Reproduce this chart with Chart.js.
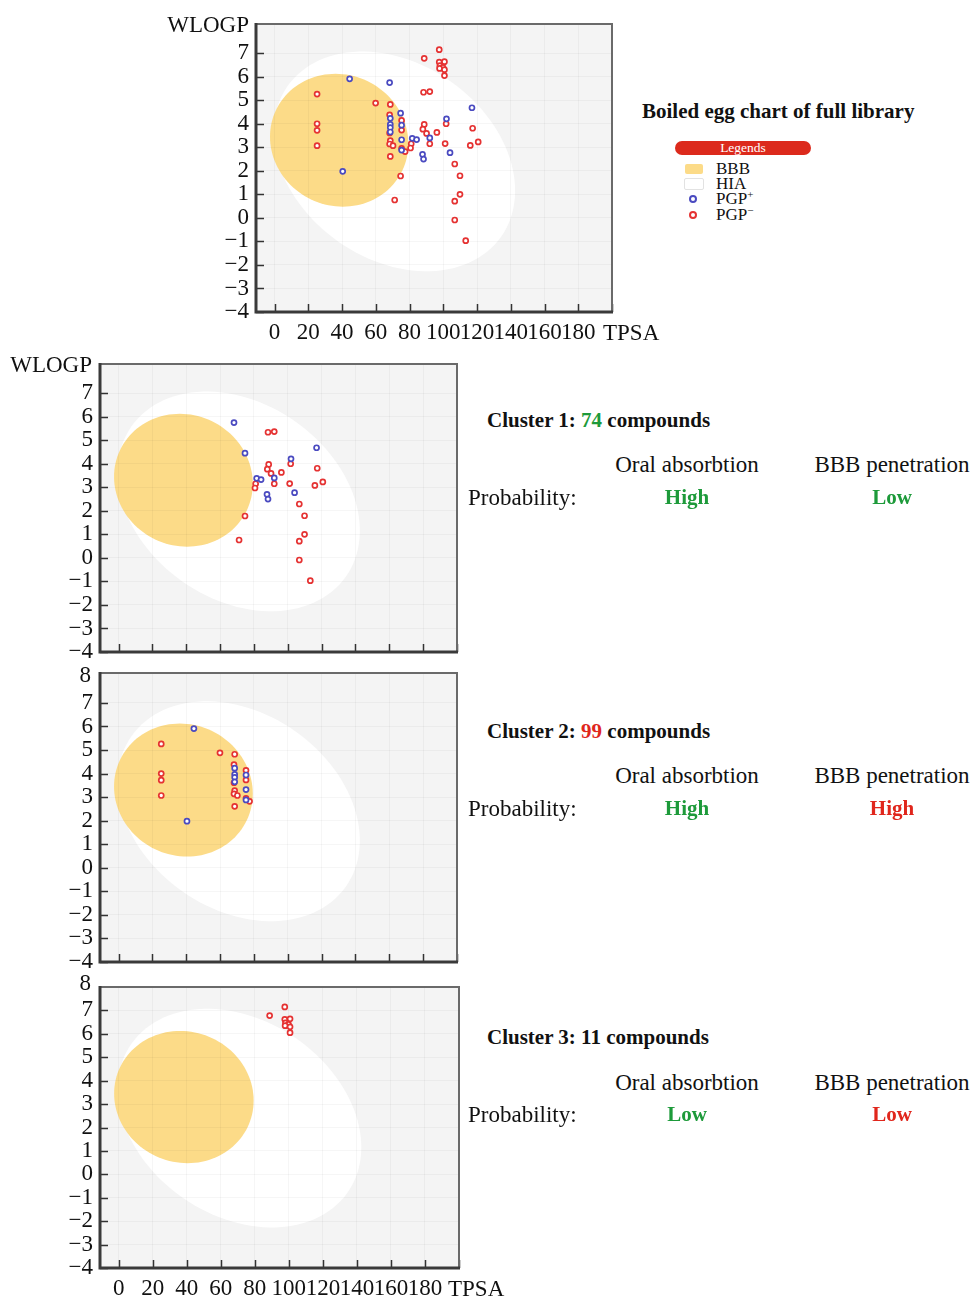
<!DOCTYPE html>
<html lang="en">
<head>
<meta charset="UTF-8" />
<title>Boiled egg charts</title>
<style>
  body { margin: 0; background: #fff; }
  #page { position: relative; width: 974px; height: 1299px; overflow: hidden; }
  canvas { position: absolute; }
  .t {
    position: absolute; white-space: nowrap; line-height: 1;
    font-family: "Liberation Serif", "Times New Roman", serif; color: #111;
    transform: translateY(-50%);
  }
  .c { transform: translate(-50%, -50%); }
  .r { transform: translate(-100%, -50%); }
  .b { font-weight: bold; }
  .ax { font-size: 23px; }
  .big { font-size: 21px; }
  .reg { font-size: 23px; }
  .green { color: #1d9a3a; }
  .red { color: #e0261c; }
  .leg { font-size: 17px; left: 716px; }
  .leg sup { font-size: 11px; vertical-align: 6px; line-height: 0; }
  .box { position: absolute; border-radius: 2px; }
  .dot { position: absolute; width: 4px; height: 4px; border-radius: 50%; border: 2px solid; background: #fff; }
</style>
<script src="https://cdn.jsdelivr.net/npm/chart.js"></script>
</head>
<body>
<div id="page">
  <canvas id="full" width="480" height="350" style="left:150px;top:8px"></canvas>
  <canvas id="cl1" width="470" height="310" style="left:0;top:350px"></canvas>
  <canvas id="cl2" width="470" height="310" style="left:0;top:660px"></canvas>
  <canvas id="cl3" width="470" height="327" style="left:0;top:972px"></canvas>

  <div class="t ax r" style="left:249px;top:24px">WLOGP</div>
  <div class="t ax" style="left:603px;top:332px">TPSA</div>
  <div class="t ax r" style="left:92px;top:364px">WLOGP</div>
  <div class="t ax r" style="left:91px;top:674px">8</div>
  <div class="t ax r" style="left:91px;top:982px">8</div>
  <div class="t ax" style="left:448px;top:1288px">TPSA</div>

  <div class="t big b" style="left:642px;top:111px">Boiled egg chart of full library</div>
  <div class="t" style="left:675px;top:148px;width:136px;height:14px;line-height:14px;transform:translateY(-50%);background:#dc2a1c;border-radius:7px;color:#fff;font-size:13.5px;text-align:center">Legends</div>
  <div class="box" style="left:685px;top:164px;width:18px;height:10px;background:#fcdb88"></div>
  <div class="t leg" style="top:168px">BBB</div>
  <div class="box" style="left:684px;top:178px;width:18px;height:10px;background:#fff;border:1px solid #e2e2e2"></div>
  <div class="t leg" style="top:183px">HIA</div>
  <div class="dot" style="left:689px;top:195px;border-color:#4a4ac0"></div>
  <div class="t leg" style="top:198px">PGP<sup>+</sup></div>
  <div class="dot" style="left:689px;top:211px;border-color:#e53232"></div>
  <div class="t leg" style="top:214px">PGP<sup>−</sup></div>

  <div class="t big b" style="left:487px;top:420px">Cluster 1: <span class="green">74</span> compounds</div>
  <div class="t reg c" style="left:687px;top:464px">Oral absorbtion</div>
  <div class="t reg c" style="left:892px;top:464px">BBB penetration</div>
  <div class="t reg" style="left:468px;top:497px">Probability:</div>
  <div class="t big b c green" style="left:687px;top:497px">High</div>
  <div class="t big b c green" style="left:892px;top:497px">Low</div>

  <div class="t big b" style="left:487px;top:731px">Cluster 2: <span class="red">99</span> compounds</div>
  <div class="t reg c" style="left:687px;top:775px">Oral absorbtion</div>
  <div class="t reg c" style="left:892px;top:775px">BBB penetration</div>
  <div class="t reg" style="left:468px;top:808px">Probability:</div>
  <div class="t big b c green" style="left:687px;top:808px">High</div>
  <div class="t big b c red" style="left:892px;top:808px">High</div>

  <div class="t big b" style="left:487px;top:1037px">Cluster 3: 11 compounds</div>
  <div class="t reg c" style="left:687px;top:1082px">Oral absorbtion</div>
  <div class="t reg c" style="left:892px;top:1082px">BBB penetration</div>
  <div class="t reg" style="left:468px;top:1114px">Probability:</div>
  <div class="t big b c green" style="left:687px;top:1114px">Low</div>
  <div class="t big b c red" style="left:892px;top:1114px">Low</div>
</div>

<script>
  // axis ticks
  const tpsaTicks = [0, 20, 40, 60, 80, 100, 120, 140, 160, 180, 200];
  const wlogpTicks = [-4, -3, -2, -1, 0, 1, 2, 3, 4, 5, 6, 7];

  // cluster 1 (74 compounds)
  const c1PlusTpsa = [68.2, 74.7, 81.6, 84.2, 92.0, 87.7, 88.3, 101.9, 104.0, 117.0];
  const c1PlusWlogp = [5.75, 4.45, 3.38, 3.33, 3.40, 2.70, 2.50, 4.21, 2.77, 4.68];
  const c1MinusTpsa = [88.3, 92.0, 88.7, 87.9, 90.1, 96.2, 81.0, 80.6, 92.0, 101.7, 101.1,
                       117.4, 116.0, 120.7, 106.8, 109.9, 109.9, 106.8, 106.8, 113.3, 74.7, 71.2];
  const c1MinusWlogp = [5.34, 5.37, 3.97, 3.77, 3.59, 3.63, 3.15, 2.97, 3.15, 4.00, 3.16,
                        3.81, 3.08, 3.23, 2.29, 1.79, 1.00, 0.71, -0.09, -0.97, 1.78, 0.76];

  // cluster 2 (99 compounds)
  const c2PlusTpsa = [44.5, 40.4, 68.6, 68.6, 68.6, 68.6, 75.3, 75.3, 75.3];
  const c2PlusWlogp = [5.91, 1.98, 4.23, 3.97, 3.84, 3.65, 3.94, 3.32, 2.88];
  const c2MinusTpsa = [25.2, 25.2, 25.2, 25.2, 59.9, 68.6, 68.2, 68.2, 68.6, 68.2, 70.2, 68.6,
                       75.3, 75.3, 75.3, 77.4];
  const c2MinusWlogp = [5.26, 4.00, 3.72, 3.07, 4.88, 4.82, 4.38, 3.61, 3.28, 3.14, 3.07, 2.61,
                        4.14, 3.73, 2.95, 2.82];

  // cluster 3 (11 compounds), all PGP-
  const c3MinusTpsa = [97.6, 88.7, 97.6, 100.7, 98.0, 99.8, 97.8, 100.7, 100.7];
  const c3MinusWlogp = [7.15, 6.78, 6.62, 6.64, 6.47, 6.40, 6.35, 6.30, 6.05];

  // BOILED-Egg regions: centre + two conjugate semi-diameters (TPSA, WLOGP units)
  const hiaEllipse = { cx: 71, cy: 2.4, ux: 63.3, uy: -3.2, vx: -33.4, vy: -3.4 };
  const bbbEllipse = { cx: 38.3, cy: 3.3, ux: 41, uy: -0.15, vx: 0, vy: 2.82 };

  const BLUE = "#4a4ac0";
  const RED = "#e53232";
  const FONT = "'Liberation Serif', 'Times New Roman', serif";

  function pts(xs, ys) {
    return xs.map((x, i) => ({ x: x, y: ys[i] }));
  }

  function traceEllipse(ctx, sx, sy, e) {
    ctx.beginPath();
    for (let i = 0; i <= 120; i++) {
      const t = (i / 120) * 2 * Math.PI;
      const px = sx.getPixelForValue(e.cx + e.ux * Math.cos(t) + e.vx * Math.sin(t));
      const py = sy.getPixelForValue(e.cy + e.uy * Math.cos(t) + e.vy * Math.sin(t));
      if (i === 0) ctx.moveTo(px, py); else ctx.lineTo(px, py);
    }
    ctx.closePath();
  }

  const eggPlugin = {
    id: "egg",
    beforeDraw(chart) {
      const { ctx, chartArea: a, scales } = chart;
      ctx.save();
      ctx.beginPath();
      ctx.rect(a.left, a.top, a.right - a.left, a.bottom - a.top);
      ctx.clip();
      ctx.fillStyle = "#f4f4f4";
      ctx.fillRect(a.left, a.top, a.right - a.left, a.bottom - a.top);
      traceEllipse(ctx, scales.x, scales.y, hiaEllipse);
      ctx.fillStyle = "#ffffff";
      ctx.fill();
      traceEllipse(ctx, scales.x, scales.y, bbbEllipse);
      ctx.fillStyle = "#fcdb88";
      ctx.fill();
      ctx.restore();
    },
    afterDraw(chart) {
      const { ctx, chartArea: a, scales } = chart;
      ctx.save();
      // inward tick marks
      ctx.strokeStyle = "#333";
      ctx.lineWidth = 1.5;
      ctx.beginPath();
      tpsaTicks.forEach(v => {
        const x = Math.round(scales.x.getPixelForValue(v)) + 0.5;
        ctx.moveTo(x, a.bottom);
        ctx.lineTo(x, a.bottom - 8);
      });
      wlogpTicks.forEach(v => {
        const y = Math.round(scales.y.getPixelForValue(v)) + 0.5;
        ctx.moveTo(a.left, y);
        ctx.lineTo(a.left + 8, y);
      });
      ctx.stroke();
      // frame
      ctx.strokeStyle = "#6a6a6a";
      ctx.lineWidth = 2;
      ctx.beginPath();
      ctx.moveTo(a.left, a.top);
      ctx.lineTo(a.right, a.top);
      ctx.lineTo(a.right, a.bottom);
      ctx.stroke();
      ctx.strokeStyle = "#3a3a3a";
      ctx.lineWidth = 3;
      ctx.beginPath();
      ctx.moveTo(a.left, a.top - 1);
      ctx.lineTo(a.left, a.bottom);
      ctx.lineTo(a.right + 1, a.bottom);
      ctx.stroke();
      ctx.restore();
    }
  };

  function eggChart(id, o) {
    return new Chart(document.getElementById(id), {
      type: "scatter",
      data: {
        datasets: [
          {
            label: "PGP+",
            data: pts(o.plusX, o.plusY),
            pointRadius: 2.5,
            pointBorderWidth: 1.7,
            pointBorderColor: BLUE,
            pointBackgroundColor: "#fff"
          },
          {
            label: "PGP−",
            data: pts(o.minusX, o.minusY),
            pointRadius: 2.5,
            pointBorderWidth: 1.7,
            pointBorderColor: RED,
            pointBackgroundColor: "#fff"
          }
        ]
      },
      options: {
        responsive: false,
        animation: false,
        layout: {
          autoPadding: false,
          padding: { top: o.padTop, right: o.padRight, left: 0, bottom: 0 }
        },
        plugins: { legend: { display: false }, tooltip: { enabled: false } },
        scales: {
          x: {
            type: "linear",
            min: -11,
            max: 200,
            afterBuildTicks: s => { s.ticks = tpsaTicks.map(v => ({ value: v })); },
            afterFit: s => {
              s.height = o.xHeight;
              s.paddingLeft = 0; s.paddingRight = 0; s.paddingTop = 0; s.paddingBottom = 0;
            },
            grid: { color: "rgba(0,0,0,0.035)", drawTicks: false },
            border: { display: false },
            ticks: {
              display: o.xLabels,
              autoSkip: false,
              maxRotation: 0,
              minRotation: 0,
              padding: 7,
              color: "#111",
              font: { family: FONT, size: 23 },
              callback: v => (v > 180 ? "" : v)
            }
          },
          y: {
            type: "linear",
            min: -4,
            max: o.yMax,
            afterBuildTicks: s => { s.ticks = wlogpTicks.map(v => ({ value: v })); },
            afterFit: s => {
              s.width = o.yWidth;
              s.paddingLeft = 0; s.paddingRight = 0; s.paddingTop = 0; s.paddingBottom = 0;
            },
            grid: { color: "rgba(0,0,0,0.035)", drawTicks: false },
            border: { display: false },
            ticks: {
              autoSkip: false,
              padding: 7,
              color: "#111",
              font: { family: FONT, size: 23 },
              callback: v => String(v).replace("-", "\u2212")
            }
          }
        }
      },
      plugins: [eggPlugin]
    });
  }

  eggChart("full", {
    plusX: c1PlusTpsa.concat(c2PlusTpsa),
    plusY: c1PlusWlogp.concat(c2PlusWlogp),
    minusX: c1MinusTpsa.concat(c2MinusTpsa, c3MinusTpsa),
    minusY: c1MinusWlogp.concat(c2MinusWlogp, c3MinusWlogp),
    padTop: 16, padRight: 18, yWidth: 106, xHeight: 46, yMax: 8.24, xLabels: true
  });
  eggChart("cl1", {
    plusX: c1PlusTpsa, plusY: c1PlusWlogp, minusX: c1MinusTpsa, minusY: c1MinusWlogp,
    padTop: 14, padRight: 13, yWidth: 100, xHeight: 8, yMax: 8.24, xLabels: false
  });
  eggChart("cl2", {
    plusX: c2PlusTpsa, plusY: c2PlusWlogp, minusX: c2MinusTpsa, minusY: c2MinusWlogp,
    padTop: 13, padRight: 13, yWidth: 100, xHeight: 8, yMax: 8.27, xLabels: false
  });
  eggChart("cl3", {
    plusX: [], plusY: [], minusX: c3MinusTpsa, minusY: c3MinusWlogp,
    padTop: 15, padRight: 11, yWidth: 100, xHeight: 31, yMax: 8, xLabels: true
  });
</script>
</body>
</html>
